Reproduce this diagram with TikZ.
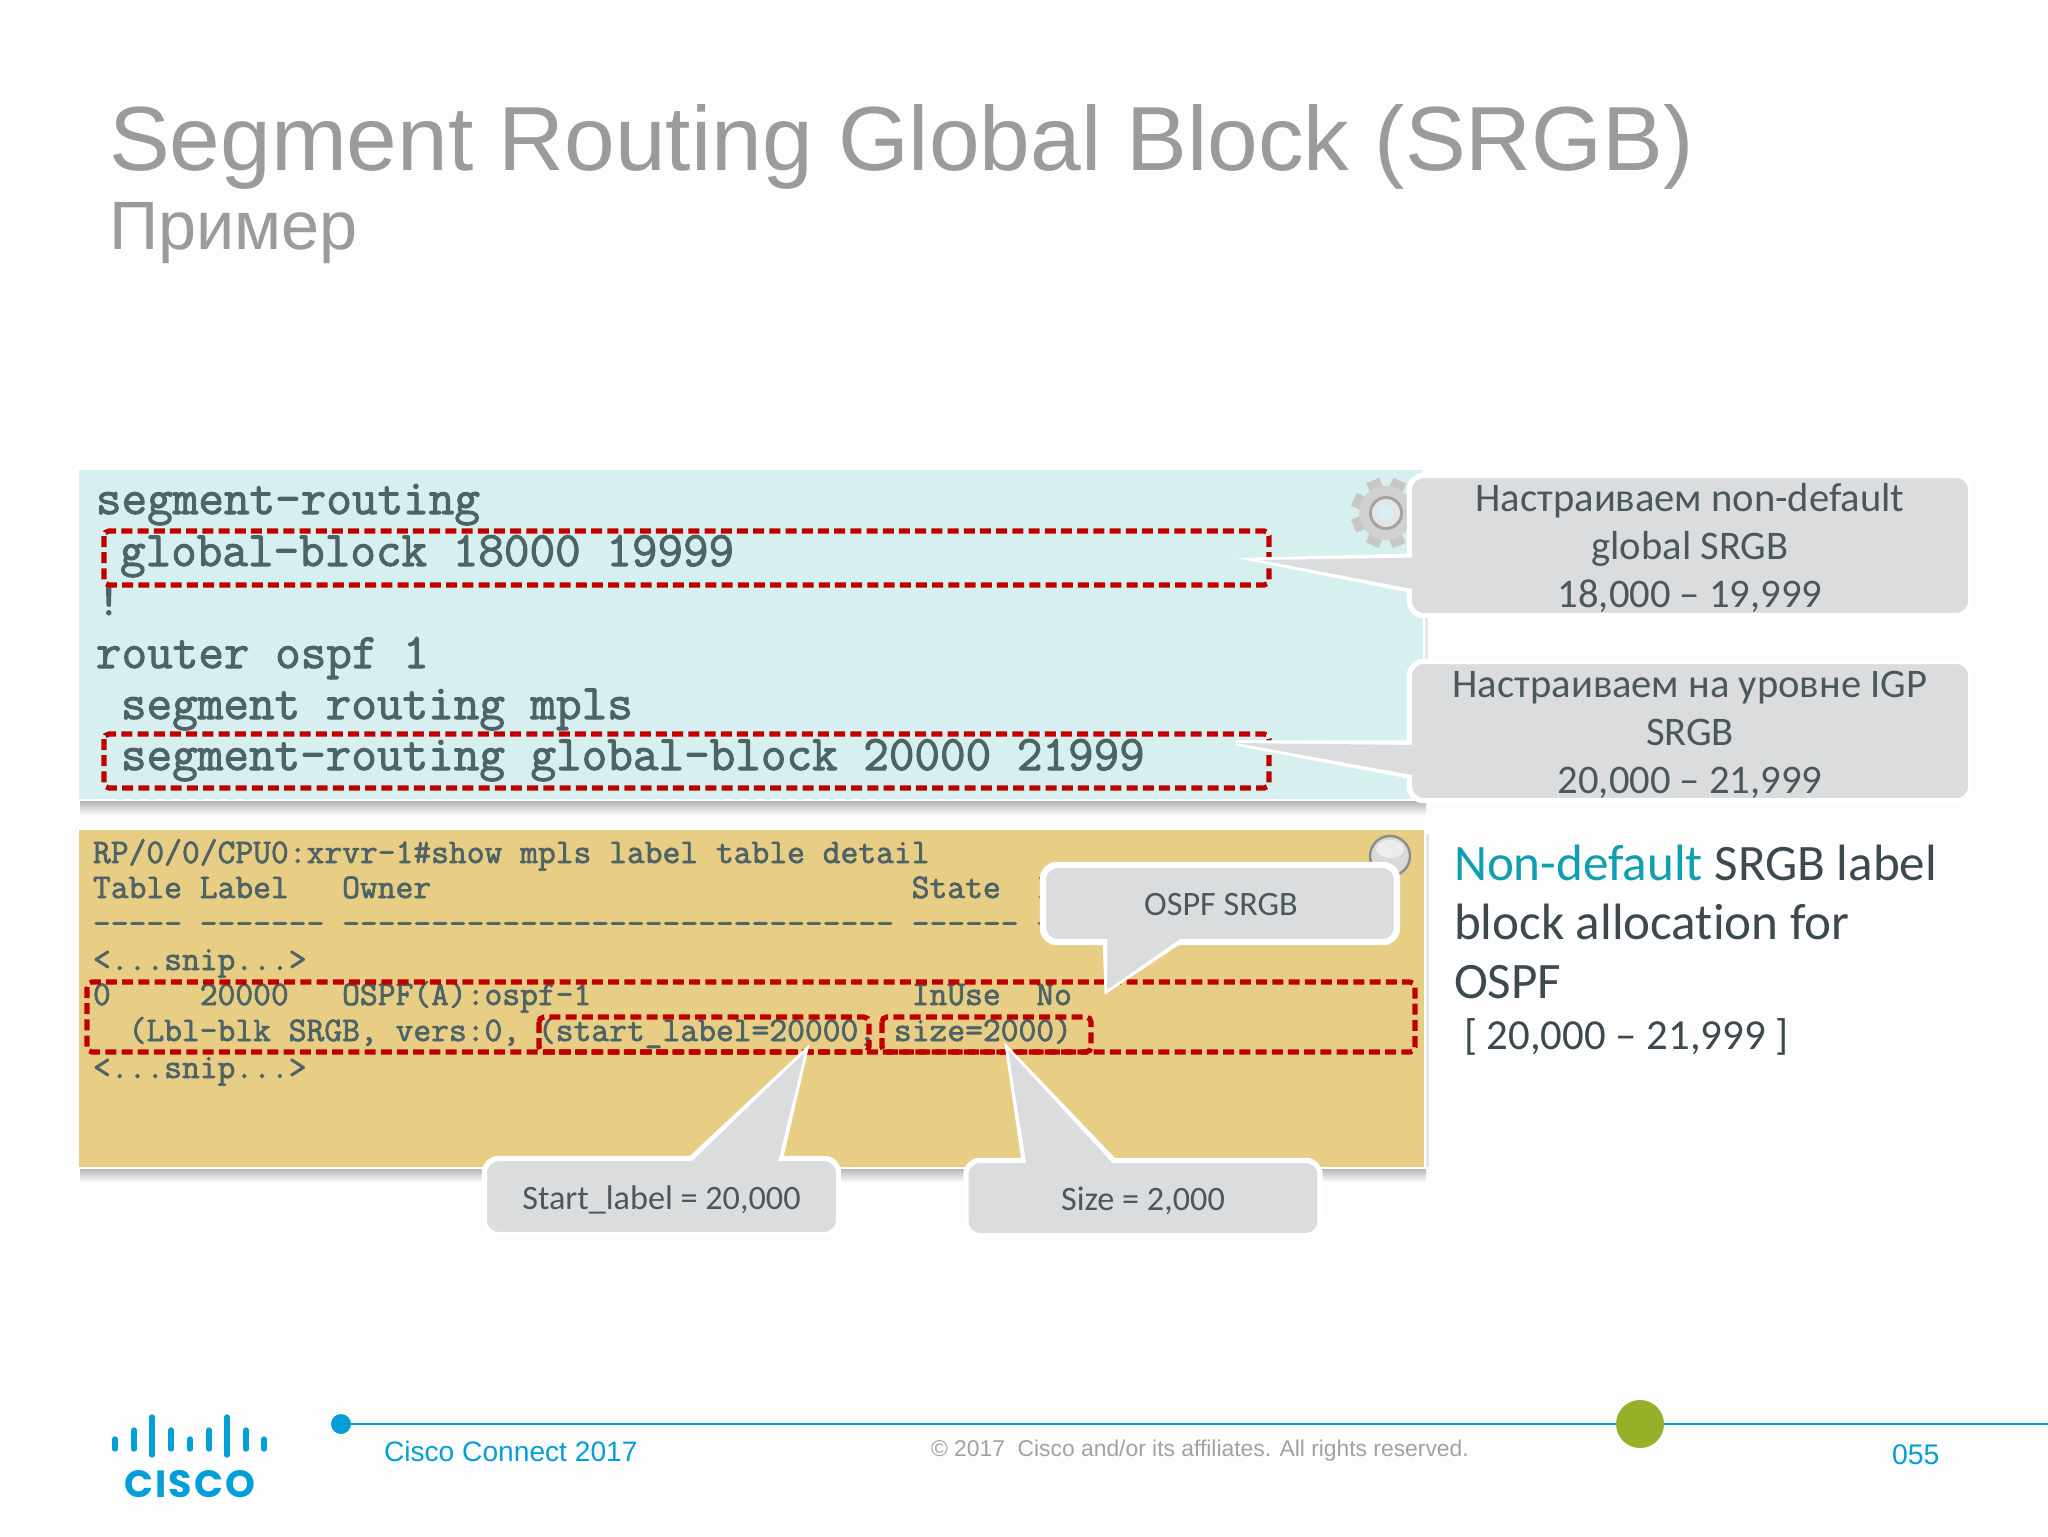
\documentclass[tikz,border=0pt]{standalone}
\usepackage{fontspec}
\setmainfont{Liberation Sans}
\newfontfamily\calfont{Carlito}[Ligatures={NoCommon}]
\newfontfamily\codefont{Latin Modern Mono}[FakeBold=2]
\newfontfamily\logofont{Poppins}[BoldFont={Poppins Bold}]
\newcommand{\fsz}[2]{\fontsize{#1}{#2}\selectfont}
\definecolor{pgback}{HTML}{FDFDFD}
\definecolor{tealpanel}{HTML}{D5F0EF}
\definecolor{yellowpanel}{HTML}{E8CE85}
\definecolor{calloutgray}{HTML}{DBDCDE}
\definecolor{codeink}{HTML}{4E6366}
\definecolor{calloutink}{HTML}{4A585B}
\definecolor{tealink}{HTML}{0E9FB0}
\definecolor{darkink}{HTML}{3C4A4F}
\definecolor{ciscoblue}{HTML}{049FD9}
\definecolor{titlegray}{HTML}{9B9B9D}
\definecolor{copygray}{HTML}{A0A2A5}
\definecolor{boxred}{HTML}{C00000}
\definecolor{dotgreen}{HTML}{96B02A}
\tikzset{
  x=0.5pt,y=-0.5pt,
  textnode/.style={inner sep=0pt,outer sep=0pt,anchor=base west},
  codeA/.style={textnode,text=codeink,font=\codefont\fsz{24.85}{29}},
  codeB/.style={textnode,text=codeink,font=\codefont\fsz{17.28}{20}},
  redbox/.style={draw=boxred,line width=2.6pt,rounded corners=2.5pt,dash pattern=on 5.5pt off 2.6pt},
  panelshadow/.style={top color=black!32,bottom color=pgback,draw=none},
  ptr/.style={fill=calloutgray,draw=white,line width=2.6pt,line join=miter},
  ptrfill/.style={fill=calloutgray,draw=none},
  calloutbox/.style={fill=calloutgray,draw=white,line width=2.6pt,rounded corners=7pt,inner sep=0pt},
  bigtext/.style={inner sep=0pt,align=center,text=calloutink,font=\calfont\fsz{20.3}{24}},
  smalltext/.style={inner sep=0pt,text=calloutink,font=\calfont\fsz{17.1}{20}},
  bar/.style={line width=2.7pt,line cap=round,draw=ciscoblue},
}
\begin{document}
\begin{tikzpicture}
\useasboundingbox (0,0) rectangle (2048,1536);
\fill[pgback] (0,0) rectangle (2048,1536);

% title
\node[textnode,text=titlegray,font=\fsz{45.55}{50}] (title) at (109,170) {Segment Routing Global Block (SRGB)};
\node[textnode,text=titlegray,font=\fsz{34.2}{38}] (subtitle) at (109,249) {Пример};

% panels
\shade[panelshadow] (80,800) rectangle (1426,815);
\shade[panelshadow] (80,1167) rectangle (1426,1182);
\fill[black!10] (1424,474) rectangle (1428,800);
\fill[black!10] (1425,834) rectangle (1429,1167);
\fill[tealpanel,draw=white,line width=1pt] (78,469) rectangle (1424,800);
\fill[yellowpanel,draw=white,line width=1.2pt] (78,829) rectangle (1425,1168);

% gear
\begin{scope}[shift={(1386,513)}]
  \foreach \a in {0,45,...,315}{
    \fill[rotate=\a+22,black!22] (-7,-35) rectangle (7,-20);
  }
  \fill[black!18] (0,0) circle (27);
  \fill[black!36] (0,0) circle (17);
  \fill[black!10] (0,0) circle (14);
  \fill[tealpanel] (0,0) circle (8);
\end{scope}

% magnifier
\fill[white!85!black,draw=black!45,line width=1.2pt] (1390,856) circle (20);
\fill[white,opacity=.55] (1390,849) ellipse (14 and 9);

% teal panel code
\node[codeA] (c1) at (96,514) {segment-routing};
\node[codeA] (c2) at (120,566) {global-block 18000 19999};
\node[codeA] (c3) at (96,615) {!};
\node[codeA] (c4) at (96,668) {router ospf 1};
\node[codeA] (c5) at (121,719) {segment routing mpls};
\node[codeA] (c6) at (121,770) {segment-routing global-block 20000 21999};
\draw[redbox] (104,531) rectangle (1269,585);
\draw[redbox] (104,734) rectangle (1269,788);

% yellow panel code
\node[codeB] (d1) at (93,863) {RP/0/0/CPU0:xrvr-1\#show mpls label table detail};
\node[codeB] (d2) at (93,898) {Table~Label~~~Owner~~~~~~~~~~~~~~~~~~~~~~~~~~~State~~I};
\node[codeB] (d3) at (93,934) {-----~-------~-------------------------------~------~-};
\node[codeB] (d4) at (93,970) {<...snip...>};
\node[codeB] (d5) at (93,1005) {0~~~~~20000~~~OSPF(A):ospf-1~~~~~~~~~~~~~~~~~~InUse~~No};
\node[codeB] (d6) at (93,1041) {~~(Lbl-blk SRGB, vers:0, (start\_label=20000, size=2000)};
\node[codeB] (d7) at (93,1078) {<...snip...>};
\draw[redbox] (87,982) rectangle (1415,1052);
\draw[redbox] (539,1017) rectangle (869,1052);
\draw[redbox] (882,1017) rectangle (1091,1052);

% callout: non-default
\coordinate (t1) at (1260,560);
\draw[ptr] (t1) -- (1420,556) -- (1420,592) -- cycle;
\node[calloutbox,minimum width=280.6pt,minimum height=70pt] (b1) at (1690,545.5) {};
\fill[ptrfill] (t1) -- (1418,557.5) -- (1418,590) -- cycle;
\node[bigtext] (b1t) at (1690,548) {Настраиваем non-default\\global SRGB\\18,000 – 19,999};

% callout: IGP
\coordinate (t2) at (1236,743);
\draw[ptr] (t2) -- (1420,743) -- (1420,778) -- cycle;
\node[calloutbox,minimum width=280.6pt,minimum height=69.6pt] (b2) at (1690,731) {};
\fill[ptrfill] (t2) -- (1418,745) -- (1418,776) -- cycle;
\node[bigtext] (b2t) at (1690,735) {Настраиваем на уровне IGP\\SRGB\\20,000 – 21,999};

% callout: OSPF SRGB
\coordinate (t3) at (1107,990);
\draw[ptr] (t3) -- (1105,935) -- (1189,935) -- cycle;
\node[calloutbox,line width=3.2pt,minimum width=177pt,minimum height=38.5pt] (b3) at (1220,903.5) {};
\fill[ptrfill] (t3) -- (1107.5,934) -- (1187,934) -- cycle;
\node[smalltext] (b3t) at (1221,905) {OSPF SRGB};

% callout: start label
\coordinate (t4) at (805,1052);
\draw[ptr] (t4) -- (684,1165) -- (779,1165) -- cycle;
\node[calloutbox,minimum width=177pt,minimum height=38pt] (b4) at (661.5,1196.5) {};
\fill[ptrfill] (t4) -- (687,1166) -- (777,1166) -- cycle;
\node[smalltext] (b4t) at (661.5,1199.5) {Start\_label = 20,000};

% callout: size
\coordinate (t5) at (1008,1050);
\draw[ptr] (t5) -- (1025,1167) -- (1120,1167) -- cycle;
\node[calloutbox,minimum width=177pt,minimum height=37.6pt] (b5) at (1143,1198) {};
\fill[ptrfill] (t5) -- (1027,1168) -- (1117,1168) -- cycle;
\node[smalltext] (b5t) at (1143,1201) {Size = 2,000};

% right text
\node[textnode,font=\calfont\fsz{25.55}{28},text=darkink] (r1) at (1454,880) {\textcolor{tealink}{Non-default} SRGB label};
\node[textnode,font=\calfont\fsz{25.55}{28},text=darkink] (r2) at (1454,939) {block allocation for};
\node[textnode,font=\calfont\fsz{25.55}{28},text=darkink] (r3) at (1454,998) {OSPF};
\node[textnode,font=\calfont\fsz{21.4}{24},text=darkink] (r4) at (1464,1049) {[ 20,000 – 21,999 ]};

% footer
\coordinate (lineend) at (2048,1424);
\node[circle,fill=ciscoblue,minimum size=10pt,inner sep=0pt] (startdot) at (341,1424) {};
\draw[ciscoblue,line width=1pt] (startdot) -- (lineend);
\node[circle,fill=dotgreen,minimum size=24pt,inner sep=0pt] (middot) at (1640,1424) {};
\node[textnode,text=ciscoblue,font=\fsz{14.08}{17}] (foot1) at (384,1461) {Cisco Connect 2017};
\node[textnode,text=copygray,font=\fsz{11.42}{14}] (foot2) at (931,1456) {© 2017~~Cisco and/or its affiliates. All rights reserved.};
\node[textnode,text=ciscoblue,font=\fsz{14.2}{17}] (foot3) at (1892,1464) {055};

% logo
\foreach \x/\ya/\yb in {115/1439/1449,134/1430/1449,152/1417/1455,171/1430/1449,190/1439/1449,209/1430/1449,227/1417/1455,246/1430/1449,264/1439/1449}{
  \draw[bar] (\x,\ya) -- (\x,\yb);
}
\node[inner sep=0pt,anchor=base,text=ciscoblue,font=\logofont\bfseries\fsz{19}{24}] (logo) at (190,1497) {C\hspace{1pt}I\hspace{1pt}S\hspace{1pt}C\hspace{1pt}O};
\end{tikzpicture}
\end{document}
